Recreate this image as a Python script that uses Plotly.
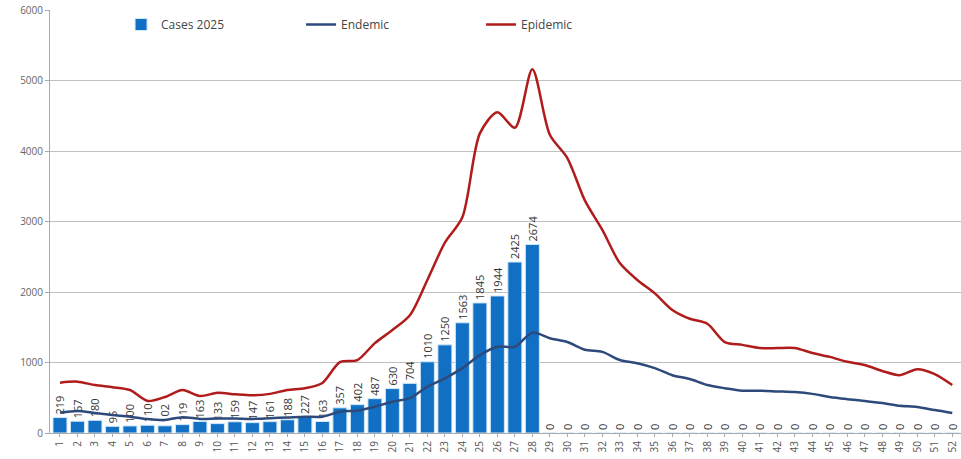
import plotly.graph_objects as go

weeks = list(range(1, 53))
week_labels = [str(w) for w in weeks]

cases_2025 = [219, 167, 180, 95, 100, 110, 102, 119, 163, 133, 159, 147, 161, 188, 227, 163,
              357, 402, 487, 630, 704, 1010, 1250, 1563, 1845, 1944, 2425, 2674] + [0] * 24

endemic = [288, 312, 283, 255, 232, 198, 185, 225, 200, 205, 205, 200, 210, 220, 232, 232,
           302, 317, 373, 444, 494, 657, 775, 920, 1105, 1224, 1224, 1423, 1345, 1290,
           1180, 1150, 1035, 990, 920, 820, 765, 680, 635, 600, 600, 590, 580, 555,
           510, 480, 455, 425, 385, 370, 325, 285]

epidemic = [714, 728, 680, 650, 610, 455, 510, 610, 525, 570, 550, 535, 555, 610, 635, 710,
            1005, 1035, 1275, 1460, 1670, 2170, 2700, 3060, 4250, 4550, 4330, 5160, 4230, 3900,
            3300, 2880, 2410, 2170, 1980, 1745, 1620, 1550, 1290, 1250, 1205, 1205, 1205, 1135,
            1080, 1010, 965, 880, 820, 905, 835, 680]

y_ticks = [0, 1000, 2000, 3000, 4000, 5000, 6000]

fig = go.Figure()
fig.add_trace(go.Bar(
    x=weeks, y=cases_2025, name="Cases 2025",
    marker=dict(color="#1170C4", line=dict(color="#CFE8FA", width=1)),
    text=[str(v) for v in cases_2025], textposition="outside", textangle=-90,
    constraintext="none",
    textfont=dict(size=11, color="#333333", family="Open Sans"),
    cliponaxis=False,
))
fig.add_trace(go.Scatter(
    x=weeks, y=endemic, name="Endemic", mode="lines",
    line=dict(color="#2D4A7A", width=2.5, shape="spline", smoothing=0.8),
))
fig.add_trace(go.Scatter(
    x=weeks, y=epidemic, name="Epidemic", mode="lines",
    line=dict(color="#B01C1C", width=2.5, shape="spline", smoothing=0.8),
))

fig.update_layout(
    width=961, height=459,
    margin=dict(l=50, r=0, t=10, b=26),
    paper_bgcolor="white", plot_bgcolor="white",
    bargap=0.2,
    font=dict(family="Open Sans", size=11, color="#555555"),
    showlegend=True,
    legend=dict(orientation="h", x=0.078, y=1.0, xanchor="left", yanchor="top",
                bgcolor="rgba(0,0,0,0)", entrywidth=135, entrywidthmode="pixels",
                font=dict(size=12, color="#444444")),
)
fig.update_xaxes(
    tickmode="array", tickvals=weeks, ticktext=week_labels, tickangle=-90,
    range=[0.43, 52.5], showgrid=False, showline=True, linecolor="#AAAAAA",
    ticks="outside", ticklen=3, tickcolor="#AAAAAA",
    tickfont=dict(size=10, color="#555555"), automargin=False,
)
fig.update_yaxes(
    range=[0, 6000], tickvals=y_ticks, showgrid=True, gridcolor="#C0C0C0",
    showline=True, linecolor="#AAAAAA", zeroline=False,
    ticks="outside", ticklen=4, tickcolor="#AAAAAA",
    tickfont=dict(size=10, color="#666666"), automargin=False,
)

fig.write_html("out.html", config={"displayModeBar": False},
               post_script="document.body.style.margin='0';")
